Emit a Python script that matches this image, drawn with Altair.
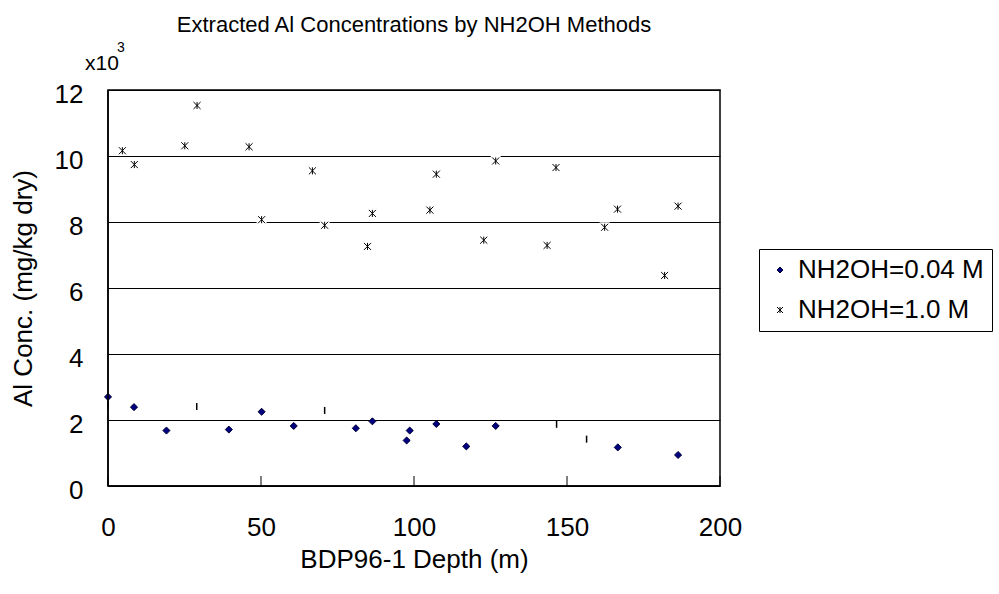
import altair as alt
import pandas as pd

# ---- data ----
series_names = ["NH2OH=0.04 M", "NH2OH=1.0 M"]

depth_low = [0, 8.5, 19.1, 39.5, 50.2, 60.7, 81.0, 86.4, 97.6, 98.6,
             107.3, 117.1, 126.7, 166.6, 186.3]
al_low = [2.70, 2.39, 1.68, 1.71, 2.25, 1.82, 1.75, 1.96, 1.38, 1.68,
          1.88, 1.20, 1.82, 1.17, 0.94]

depth_high = [4.7, 8.6, 25.1, 29.1, 46.1, 50.2, 66.8, 70.8, 86.4, 84.8,
              105.2, 107.3, 122.8, 126.7, 143.5, 146.4, 162.3, 166.5, 186.3, 181.9]
al_high = [10.16, 9.74, 10.31, 11.53, 10.28, 8.07, 9.55, 7.90, 8.26, 7.26,
           8.36, 9.45, 7.45, 9.85, 7.29, 9.65, 7.84, 8.39, 8.48, 6.38]

# small stray vertical marks visible near the 0.04 M series
bar_depth = [0, 29.0, 70.8, 146.6, 156.4]
bar_al = [2.45, 2.41, 2.29, 1.87, 1.42]

x_domain = [0, 200]
y_domain = [0, 12]
x_ticks = [0, 50, 100, 150, 200]
y_ticks = [0, 2, 4, 6, 8, 10, 12]

multiplier_text = ["x10"]
exponent_text = ["3"]
title_text = "Extracted Al Concentrations by NH2OH Methods"
x_title = "BDP96-1 Depth (m)"
y_title = "Al Conc. (mg/kg dry)"

# ---- tables ----
df_pts = pd.concat([
    pd.DataFrame({"depth": depth_low, "al": al_low, "series": series_names[0]}),
    pd.DataFrame({"depth": depth_high, "al": al_high, "series": series_names[1]}),
], ignore_index=True)
df_high = pd.DataFrame({"depth": depth_high, "al": al_high})
df_bars = pd.DataFrame({"depth": bar_depth, "al": bar_al})
df_xt = pd.DataFrame({"depth": x_ticks})
df_left = pd.DataFrame({"depth": [x_domain[0]], "lo": [y_domain[0]], "hi": [y_domain[1]]})
df_bottom = pd.DataFrame({"lo": [x_domain[0]], "hi": [x_domain[1]], "al": [y_domain[0]]})

FONT = "Liberation Sans"
STAR = "M-1,-1L1,1M-1,1L1,-1M0,-1L0,1"

xs = alt.Scale(domain=x_domain, nice=False)
ys = alt.Scale(domain=y_domain, nice=False)

x_axis = alt.Axis(values=x_ticks, grid=False, ticks=False, domain=False,
                  labelFlush=False,
                  labelPadding=28, labelFontSize=26, labelFont=FONT, labelColor="black",
                  title=x_title, titleFontSize=26, titleFont=FONT, titleFontWeight="normal",
                  titleColor="black", titlePadding=6)
y_axis = alt.Axis(values=y_ticks, grid=True, gridColor="black", gridWidth=1, gridOpacity=1,
                  ticks=False, domain=False,
                  labelFlush=False,
                  labelPadding=25, labelOffset=4, labelFontSize=26, labelFont=FONT,
                  labelColor="black",
                  title=y_title, titleFontSize=26, titleFont=FONT, titleFontWeight="normal",
                  titleColor="black", titlePadding=18)

legend = alt.Legend(
    title=None, orient="none", legendX=651, legendY=159,
    fillColor="white", strokeColor="black",
    padding=8, rowPadding=14, labelFontSize=26, labelFont=FONT, labelColor="black",
    symbolSize=36, symbolStrokeWidth=1, symbolOffset=0, labelOffset=5,
    labelLimit=400,
)

# white patches behind the star markers (they interrupt the gridlines, as in the reference)
grid_base = alt.Chart(df_high).mark_square(color="white", size=100, opacity=1).encode(
    x=alt.X("depth:Q", scale=xs, axis=x_axis),
    y=alt.Y("al:Q", scale=ys, axis=y_axis),
)

frame_left = alt.Chart(df_left).mark_rule(color="black", strokeWidth=1.5).encode(
    x=alt.X("depth:Q", scale=xs),
    y=alt.Y("lo:Q", scale=ys),
    y2="hi:Q",
)
frame_bottom = alt.Chart(df_bottom).mark_rule(color="black", strokeWidth=1.5).encode(
    x=alt.X("lo:Q", scale=xs),
    x2="hi:Q",
    y=alt.Y("al:Q", scale=ys),
)

points = alt.Chart(df_pts).mark_point(opacity=1, strokeWidth=1, size=50).encode(
    x=alt.X("depth:Q", scale=xs),
    y=alt.Y("al:Q", scale=ys),
    shape=alt.Shape("series:N", scale=alt.Scale(domain=series_names, range=["diamond", STAR]),
                    legend=legend),
    fill=alt.Fill("series:N", scale=alt.Scale(domain=series_names, range=["#000080", "transparent"]),
                  legend=legend),
    stroke=alt.Stroke("series:N", scale=alt.Scale(domain=series_names, range=["#000033", "#000000"]),
                      legend=legend),
)

bars = alt.Chart(df_bars).mark_tick(orient="vertical", color="black", size=7, thickness=1.5,
                                    opacity=1).encode(
    x=alt.X("depth:Q", scale=xs),
    y=alt.Y("al:Q", scale=ys),
)

xticks = alt.Chart(df_xt).mark_tick(orient="vertical", color="black", size=10, thickness=1,
                                    opacity=1).encode(
    x=alt.X("depth:Q", scale=xs),
    y=alt.value(391),
)

mult = alt.Chart(pd.DataFrame({"t": multiplier_text})).mark_text(
    font=FONT, fontSize=21, align="left", baseline="alphabetic", color="black"
).encode(text="t:N", x=alt.value(-23), y=alt.value(-20))

expo = alt.Chart(pd.DataFrame({"t": exponent_text})).mark_text(
    font=FONT, fontSize=14, align="left", baseline="alphabetic", color="black"
).encode(text="t:N", x=alt.value(9), y=alt.value(-38))

chart = alt.layer(grid_base, points, bars, xticks, mult, expo, frame_left, frame_bottom).properties(
    width=612, height=396,
    title=alt.TitleParams(title_text, font=FONT, fontSize=22, fontWeight="normal",
                          color="black", anchor="middle", offset=4),
    autosize=alt.AutoSizeParams(type="none"),
    padding={"left": 108, "top": 90, "right": 279, "bottom": 108},
    background="white",
).configure_view(stroke="black", strokeWidth=1.5)

chart.save("out.html", embed_options={"renderer": "svg", "actions": False})
